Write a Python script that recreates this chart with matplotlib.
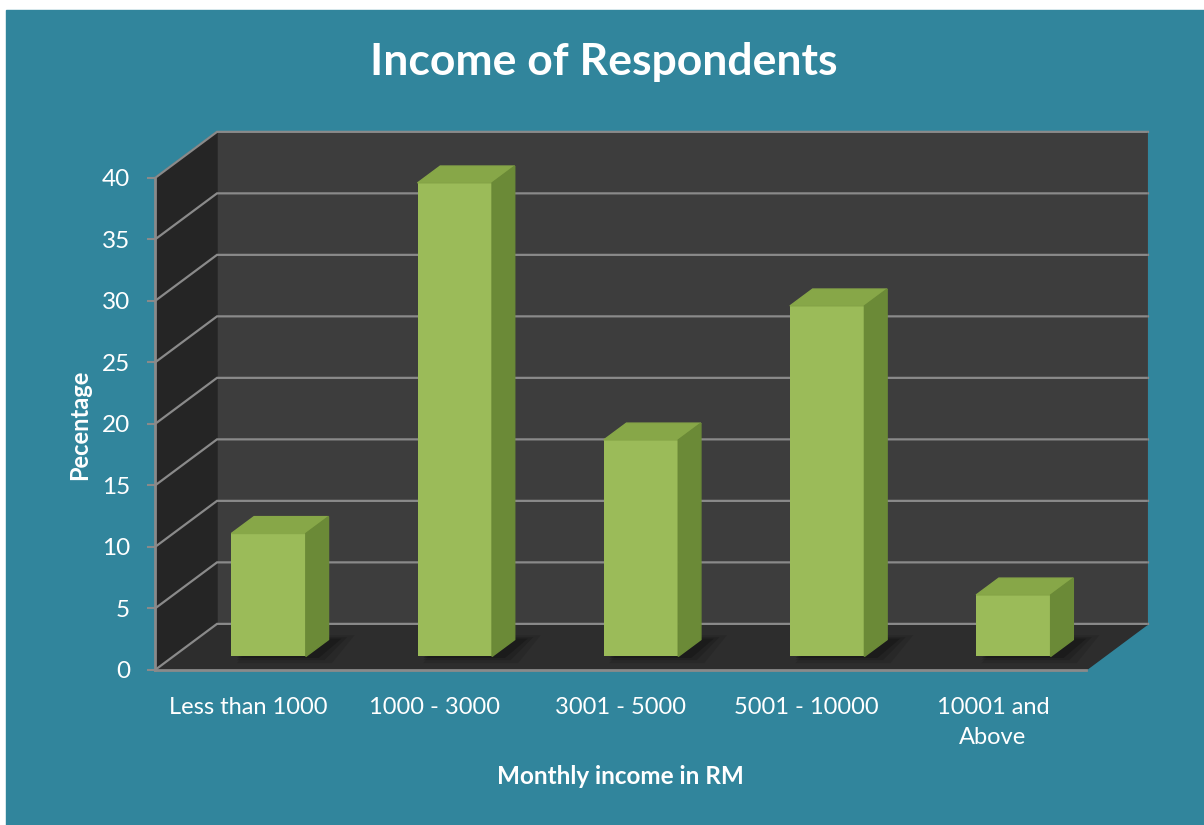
import matplotlib.pyplot as plt
import numpy as np
from matplotlib.patches import Polygon, Rectangle

categories = ['Less than 1000', '1000 - 3000', '3001 - 5000', '5001 - 10000', '10001 and\nAbove']
percent = [10.0, 38.5, 17.6, 28.5, 5.0]
yticks = [0, 5, 10, 15, 20, 25, 30, 35, 40]

plt.rcParams['font.family'] = ['Lato', 'DejaVu Sans']

teal = '#31859c'
grid_c = '#8a8a8a'
W, H = 1204, 825
fig = plt.figure(figsize=(W / 100, H / 100), dpi=100)
fig.patch.set_facecolor('white')
fig.patches.append(Rectangle((6 / W, 0), 1, 1 - 10 / H, transform=fig.transFigure,
                             color=teal, zorder=-10))

ax = fig.add_axes([155 / W, 155 / H, 993 / W, 540 / H])
ax.set_facecolor('none')
for s in ax.spines.values():
    s.set_visible(False)

# oblique "3d" depth of the walls, in data units
dx, dy = 0.333, 3.75
x0, x1 = -0.5, len(categories) - 0.5
ymax = yticks[-1]
ax.set_xlim(x0, x1 + dx)
ax.set_ylim(0, 43.9)

# walls and floor
ax.add_patch(Rectangle((x0 + dx, dy), x1 - x0, ymax, color='#3d3d3d', zorder=1))
ax.add_patch(Polygon([(x0, 0), (x0 + dx, dy), (x0 + dx, ymax + dy), (x0, ymax)],
                     color='#252525', zorder=1))
ax.add_patch(Polygon([(x0, 0), (x1, 0), (x1 + dx, dy), (x0 + dx, dy)],
                     color='#2d2d2d', zorder=1))

for v in yticks:
    ax.plot([x0, x0 + dx, x1 + dx], [v, v + dy, v + dy], color=grid_c, lw=1.6,
            zorder=2, clip_on=False, solid_joinstyle='miter')
ax.plot([x0, x1], [0, 0], color=grid_c, lw=2, zorder=2, clip_on=False)
ax.plot([x0, x0], [0, ymax], color=grid_c, lw=2, zorder=2, clip_on=False)
ax.plot([x1 + dx, x1 + dx], [dy, ymax + dy], color='#555555', lw=1, zorder=2)

# bars: front face + top + side
by = 1.1
bx = np.arange(len(percent)) + 0.11
bw = 0.40
ddx, ddy = 0.122, 1.37
bars = ax.bar(bx, percent, width=bw, bottom=by, color='#9bbb59', zorder=5)
for rect, v in zip(bars, percent):
    xl = rect.get_x()
    xr = xl + rect.get_width()
    top = by + v
    # soft shadow on the floor
    for k, a in [(0.09, 0.10), (0.05, 0.14), (0.02, 0.2)]:
        ax.add_patch(Polygon([(xl + 0.03, by - k * 6), (xr + 0.05 + k, by - k * 6),
                              (xr + ddx + 0.05 + k, by + ddy + k * 4),
                              (xl + ddx + 0.03, by + ddy + k * 4)],
                             color='black', alpha=a, lw=0, zorder=3))
    ax.add_patch(Polygon([(xl, top), (xr, top), (xr + ddx, top + ddy), (xl + ddx, top + ddy)],
                         color='#87a748', zorder=5))
    ax.add_patch(Polygon([(xr, by), (xr + ddx, by + ddy), (xr + ddx, top + ddy), (xr, top)],
                         color='#6b8a37', zorder=5))

ax.set_yticks(yticks)
ax.tick_params(axis='y', length=6, width=1.5, color=grid_c, labelcolor='white',
               labelsize=17.5, pad=12)
ax.set_xticks(range(len(categories)))
ax.set_xticklabels(categories, linespacing=1.55)
ax.tick_params(axis='x', length=0, labelcolor='white', labelsize=17, pad=19.5)

fig.text(604 / W, 1 - 62 / H, 'Income of Respondents', ha='center', va='center',
         fontsize=32, fontweight='bold', color='white')
fig.text(620 / W, 1 - 777 / H, 'Monthly income in RM', ha='center', va='center',
         fontsize=17.5, fontweight='bold', color='white')
fig.text(80 / W, 1 - 425 / H, 'Pecentage', ha='center', va='center', rotation=90,
         fontsize=17, fontweight='bold', color='white')

fig.savefig('out.png', dpi=100, facecolor=fig.get_facecolor())
